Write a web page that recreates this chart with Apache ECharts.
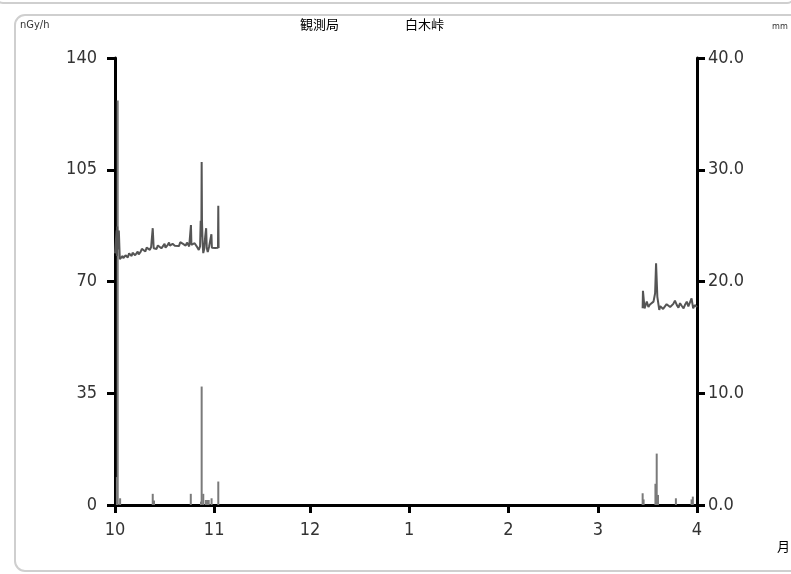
<!DOCTYPE html>
<html><head><meta charset="utf-8">
<script src="https://cdn.jsdelivr.net/npm/echarts@6/dist/echarts.min.js"></script>
<style>html,body{margin:0;padding:0;background:#fff}#c{width:791px;height:574px}</style>
</head><body><div id="c"></div>
<script>
// x positions are days since 1 Oct
const monthLabels = ['10','11','12','1','2','3','4'];
const monthStartDays = [0,31,61,92,123,151,182];
const leftTicks = [0,35,70,105,140];
const rightTicks = [0,10,20,30,40];

// dose rate (nGy/h), first period (Oct)
const doseDays1 = [0.0,0.3,0.5,0.6,0.7,0.9,1.2,1.5,2.1,2.4,2.6,3.0,3.3,3.5,4.0,4.4,4.7,5.2,5.5,5.8,6.3,6.8,7.1,7.4,8.0,8.4,8.9,9.5,9.9,10.2,10.9,11.3,11.6,11.8,12.0,12.1,12.6,13.0,13.4,13.8,14.5,15.1,15.5,15.8,16.5,16.9,17.2,18.0,18.3,18.7,19.3,20.0,20.4,20.7,21.4,22.1,22.5,22.8,23.2,23.6,23.75,23.9,24.5,24.9,25.2,25.8,26.2,26.6,26.8,27.0,27.1,27.2,27.4,27.6,27.9,28.2,28.5,28.7,29.0,29.4,29.8,30.15,30.3,30.8,31.3,31.8,32.2,32.3,32.4];
const doseVals1 = [78.8,79.0,86.0,78.0,87.2,80.0,86.0,77.0,76.5,78.0,77.3,76.8,78.2,77.8,77.5,78.8,78.3,78.0,79.0,78.6,78.2,78.8,79.4,78.5,79.3,80.2,79.9,79.4,80.6,80.0,79.9,80.8,80.3,86.7,86.7,80.4,81.0,80.2,81.3,80.8,80.4,81.0,81.8,80.6,81.5,82.2,81.2,81.8,82.4,81.2,81.6,81.1,82.3,82.0,81.7,81.2,82.2,81.9,81.0,81.3,87.7,81.5,81.2,82.0,81.8,80.6,79.9,81.0,89.0,84.0,107.4,89.0,82.0,78.9,80.2,84.0,86.7,80.5,79.2,80.8,80.2,84.8,80.6,80.2,80.5,80.1,80.6,93.7,80.5];
// dose rate (nGy/h), second period (Mar)
const doseDays2 = [165.0,165.1,165.6,166.3,166.8,167.3,167.8,168.4,168.9,169.2,169.6,170.2,170.5,170.9,171.4,172.0,172.5,173.1,173.6,174.1,174.6,175.1,175.7,176.2,176.7,177.2,177.8,178.3,178.8,179.3,179.9,180.3,180.8,181.3,181.7,182.0];
const doseVals2 = [61.6,67.1,61.6,63.7,62.0,62.8,62.3,63.7,66.3,75.7,65.2,61.1,62.3,62.6,61.4,61.6,62.9,63.2,62.0,62.3,63.0,64.0,62.6,61.8,63.2,62.4,61.6,62.8,63.7,62.2,62.0,64.7,61.6,62.6,62.3,62.0];

// rainfall (mm)
const rainDays = [0.6,0.85,1.6,11.8,12.2,23.7,26.9,27.1,27.6,28.4,28.8,29.3,30.2,32.3,165.0,165.3,169.0,169.4,169.8,175.4,180.3,180.7];
const rainVals = [2.5,36.2,0.6,1.0,0.4,1.0,0.3,10.6,1.0,0.45,0.45,0.45,0.6,2.1,1.05,0.5,1.9,4.6,0.9,0.6,0.5,0.75];

const zip = (a,b) => a.map((v,i) => [v,b[i]]);
const numFont = "'DejaVu Sans Condensed', 'DejaVu Sans', sans-serif";

const chart = echarts.init(document.getElementById('c'), null, {renderer:'canvas'});
chart.setOption({
  animation:false,
  backgroundColor:'#fff',
  grid:{left:115,right:94,top:58,bottom:69,containLabel:false},
  xAxis:{type:'value',min:monthStartDays[0],max:monthStartDays[monthStartDays.length-1],
    axisLine:{show:true,lineStyle:{color:'#000',width:3}},
    axisTick:{show:true,length:8,lineStyle:{color:'#000',width:3},customValues:monthStartDays},
    axisLabel:{customValues:monthStartDays,margin:16,fontFamily:numFont,fontSize:18,color:'#333',
      formatter:v=>monthLabels[monthStartDays.indexOf(Math.round(v))]},
    splitLine:{show:false}},
  yAxis:[
    {type:'value',min:0,max:140,interval:35,position:'left',
     axisLine:{show:true,onZero:false,lineStyle:{color:'#000',width:3}},
     axisTick:{show:true,length:8,lineStyle:{color:'#000',width:3}},
     axisLabel:{margin:18,fontFamily:numFont,fontSize:18,color:'#333',
       formatter:v=>String(leftTicks[leftTicks.indexOf(v)])},
     splitLine:{show:false}},
    {type:'value',min:0,max:40,interval:10,position:'right',
     axisLine:{show:true,onZero:false,lineStyle:{color:'#000',width:3}},
     axisTick:{show:true,length:8,lineStyle:{color:'#000',width:3}},
     axisLabel:{margin:11,fontFamily:numFont,fontSize:18,color:'#333',
       formatter:v=>rightTicks[rightTicks.indexOf(v)].toFixed(1)},
     splitLine:{show:false}}
  ],
  series:[
    {type:'bar',yAxisIndex:1,barWidth:2,data:zip(rainDays,rainVals),
     itemStyle:{color:'#7a7a7a'},z:2},
    {type:'line',yAxisIndex:0,data:zip(doseDays1,doseVals1),showSymbol:false,
     lineStyle:{color:'#555',width:2},z:3},
    {type:'line',yAxisIndex:0,data:zip(doseDays2,doseVals2),showSymbol:false,
     lineStyle:{color:'#555',width:2},z:3}
  ],
  graphic:[
    {type:'rect',shape:{x:-5,y:-20,width:800,height:23,r:8},style:{fill:'none',stroke:'#cfcfcf',lineWidth:2},silent:true},
    {type:'rect',shape:{x:15,y:15,width:800,height:556,r:10},style:{fill:'none',stroke:'#cfcfcf',lineWidth:2},silent:true},
    {type:'text',left:20,top:20,style:{text:'nGy/h',font:"11px 'DejaVu Sans Condensed', 'DejaVu Sans', sans-serif",fill:'#333'}},
    {type:'text',left:300,top:18,style:{text:'観測局',font:'13px "Noto Sans CJK JP"',fill:'#000'}},
    {type:'text',left:405,top:18,style:{text:'白木峠',font:'13px "Noto Sans CJK JP"',fill:'#000'}},
    {type:'text',left:772,top:22,style:{text:'mm',font:"9px 'DejaVu Sans Condensed', 'DejaVu Sans', sans-serif",fill:'#333'}},
    {type:'text',left:777,top:540,style:{text:'月',font:'13px "Noto Sans CJK JP"',fill:'#000'}}
  ]
});
</script></body></html>
